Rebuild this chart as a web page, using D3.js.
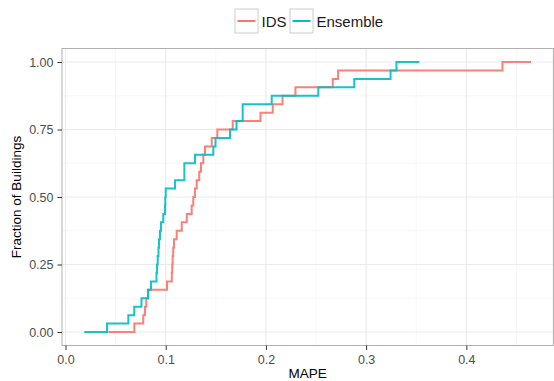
<!DOCTYPE html>
<html>
<head>
<meta charset="utf-8">
<script src="https://cdn.jsdelivr.net/npm/d3@7"></script>
<style>
  body { margin: 0; background: #fff; }
  text { font-family: "Liberation Sans", Arial, sans-serif; }
  .tick text { fill: #4d4d4d; font-size: 12.5px; }
  .tick line { stroke: #333; }
</style>
</head>
<body>
<div id="chart"></div>
<script>
// series names and colours
var seriesNames = ["IDS", "Ensemble"];
var seriesColors = ["#F8766D", "#00BFC4"];

// MAPE value at which each step (0/32 .. 32/32) begins, plus where the line ends
var idsSteps = [0.0427, 0.0687, 0.0776, 0.0793, 0.0806, 0.0823, 0.1013, 0.1061, 0.1065,
  0.1069, 0.1075, 0.1083, 0.1110, 0.1160, 0.1210, 0.1259, 0.1275, 0.1292, 0.1309,
  0.1335, 0.1352, 0.1375, 0.1392, 0.1459, 0.1515, 0.1669, 0.1946, 0.2068, 0.2166,
  0.2295, 0.2667, 0.2720, 0.4361];
var idsEnd = 0.4646;

var ensembleSteps = [0.0188, 0.0414, 0.0627, 0.0686, 0.0758, 0.0826, 0.0853, 0.0908, 0.0913,
  0.0920, 0.0928, 0.0933, 0.0943, 0.0953, 0.0976, 0.0993, 0.0996, 0.1000, 0.1093,
  0.1186, 0.1186, 0.1292, 0.1475, 0.1497, 0.1642, 0.1707, 0.1768, 0.1768, 0.2058,
  0.2523, 0.2882, 0.3244, 0.3303];
var ensembleEnd = 0.3531;

// tick values
var xTicks = [0, 0.1, 0.2, 0.3, 0.4];
var xMinor = [0.05, 0.15, 0.25, 0.35, 0.45];
var yTicks = [0, 0.25, 0.5, 0.75, 1];
var yMinor = [0.125, 0.375, 0.625, 0.875];

var svgWidth = 554;
var svgHeight = 381;

var margin = { top: 48.5, right: 0.6, bottom: 35.5, left: 62 };
var width = svgWidth - margin.left - margin.right;
var height = svgHeight - margin.top - margin.bottom;

var svg = d3.select("#chart")
  .append("svg")
  .attr("width", svgWidth)
  .attr("height", svgHeight);

var chartGroup = svg.append("g")
  .attr("transform", `translate(${margin.left}, ${margin.top})`);

// ggplot style 5% expansion
var xMin = d3.min(ensembleSteps.concat(idsSteps));
var xMax = d3.max([idsEnd, ensembleEnd]);
var xPad = (xMax - xMin) * 0.05;

var xScale = d3.scaleLinear()
  .domain([xMin - xPad, xMax + xPad])
  .range([0, width]);
var yScale = d3.scaleLinear()
  .domain([-0.05, 1.05])
  .range([height, 0]);

// grid
chartGroup.selectAll(".xminor").data(xMinor).enter().append("line")
  .attr("x1", d => xScale(d)).attr("x2", d => xScale(d))
  .attr("y1", 0).attr("y2", height)
  .attr("stroke", "#f2f2f2").attr("stroke-width", 0.6);
chartGroup.selectAll(".yminor").data(yMinor).enter().append("line")
  .attr("x1", 0).attr("x2", width)
  .attr("y1", d => yScale(d)).attr("y2", d => yScale(d))
  .attr("stroke", "#f2f2f2").attr("stroke-width", 0.6);
chartGroup.selectAll(".xmajor").data(xTicks).enter().append("line")
  .attr("x1", d => xScale(d)).attr("x2", d => xScale(d))
  .attr("y1", 0).attr("y2", height)
  .attr("stroke", "#ebebeb").attr("stroke-width", 1.1);
chartGroup.selectAll(".ymajor").data(yTicks).enter().append("line")
  .attr("x1", 0).attr("x2", width)
  .attr("y1", d => yScale(d)).attr("y2", d => yScale(d))
  .attr("stroke", "#ebebeb").attr("stroke-width", 1.1);

// step lines
var stepLine = d3.line()
  .x(d => xScale(d[0]))
  .y(d => yScale(d[1]))
  .curve(d3.curveStepAfter);

function toPoints(steps, end) {
  var n = steps.length - 1;
  var pts = steps.map((x, i) => [x, i / n]);
  pts.push([end, 1]);
  return pts;
}

var series = [toPoints(idsSteps, idsEnd), toPoints(ensembleSteps, ensembleEnd)];

chartGroup.selectAll(".ecdf")
  .data(series)
  .enter()
  .append("path")
  .attr("d", d => stepLine(d))
  .attr("fill", "none")
  .attr("stroke", (d, i) => seriesColors[i])
  .attr("stroke-width", 2)
  .attr("stroke-opacity", 0.92);

// panel border
chartGroup.append("rect")
  .attr("x", 0).attr("y", 0)
  .attr("width", width).attr("height", height)
  .attr("fill", "none")
  .attr("stroke", "#b0b0b0")
  .attr("stroke-width", 1);

// axes
var xAxis = d3.axisBottom(xScale)
  .tickValues(xTicks)
  .tickFormat(d3.format(".1f"))
  .tickSize(4.5)
  .tickPadding(5);
var yAxis = d3.axisLeft(yScale)
  .tickValues(yTicks)
  .tickFormat(d3.format(".2f"))
  .tickSize(4.5)
  .tickPadding(4);

var gx = chartGroup.append("g")
  .attr("transform", `translate(0, ${height})`)
  .call(xAxis);
gx.select(".domain").remove();

var gy = chartGroup.append("g")
  .call(yAxis);
gy.select(".domain").remove();

svg.selectAll(".tick text").attr("font-family", null).attr("font-size", null);

// axis titles
svg.append("text")
  .attr("x", margin.left + width / 2)
  .attr("y", 377.5)
  .attr("text-anchor", "middle")
  .attr("font-size", "13.5px")
  .attr("fill", "#000")
  .text("MAPE");

svg.append("text")
  .attr("transform", `translate(21, ${margin.top + height / 2}) rotate(-90)`)
  .attr("text-anchor", "middle")
  .attr("font-size", "13.5px")
  .attr("fill", "#000")
  .text("Fraction of Buildings");

// legend
var legendX = [235, 290];
var legend = svg.selectAll(".legend")
  .data(seriesNames)
  .enter()
  .append("g")
  .attr("transform", (d, i) => `translate(${legendX[i]}, 9)`);

legend.append("rect")
  .attr("width", 23).attr("height", 24)
  .attr("fill", "#fff")
  .attr("stroke", "#cccccc")
  .attr("stroke-width", 1);
legend.append("line")
  .attr("x1", 2.5).attr("x2", 20.5)
  .attr("y1", 12).attr("y2", 12)
  .attr("stroke", (d, i) => seriesColors[i])
  .attr("stroke-width", 2);
legend.append("text")
  .attr("x", 26.5)
  .attr("y", 17.5)
  .attr("font-size", "15px")
  .attr("fill", "#1a1a1a")
  .text(d => d);
</script>
</body>
</html>
